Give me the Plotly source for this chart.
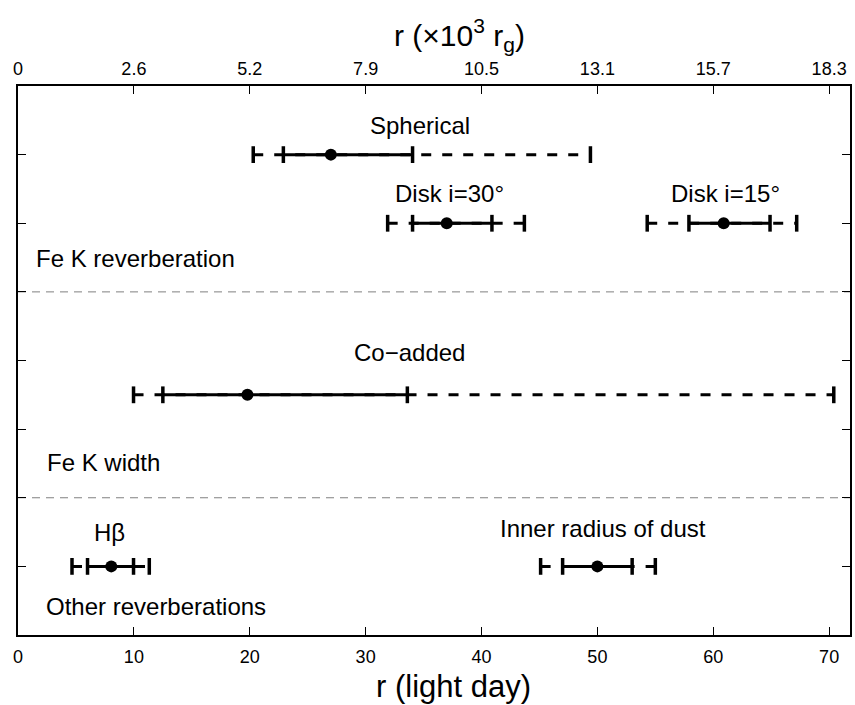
import plotly.graph_objects as go

# ---------------- data (light days) ----------------
labels   = ["Spherical", "Disk i=30°", "Disk i=15°", "Co−added", "Hβ", "Inner radius of dust"]
rows     = [7, 6, 6, 3.5, 1, 1]
r_best   = [27.0, 37.0, 60.9, 19.8, 8.05, 50.0]
r_in_lo  = [22.9, 34.05, 57.9, 12.5, 6.0, 47.0]
r_in_hi  = [34.05, 40.9, 64.9, 33.6, 9.97, 53.0]
r_out_lo = [20.3, 31.9, 54.3, 9.97, 4.66, 45.1]
r_out_hi = [49.4, 43.7, 67.2, 70.4, 11.33, 55.0]

group_labels = ["Fe K reverberation", "Fe K width", "Other reverberations"]
separators = [5, 2]

bottom_ticks = [0, 10, 20, 30, 40, 50, 60, 70]
top_ticktext = ["0", "2.6", "5.2", "7.9", "10.5", "13.1", "15.7", "18.3"]

# ---------------- layout helpers ----------------
FONT = "Arial, Liberation Sans, Helvetica, sans-serif"
label_pos = [(34.7, 7.43), (37.25, 6.44), (61.05, 6.44), (33.8, 4.11), (7.9, 1.50), (50.5, 1.55)]
group_pos = [(1.35, 5.49), (2.29, 2.52), (2.21, 0.41)]

fig = go.Figure()

for i in range(len(labels)):
    y = rows[i]
    # dashed outer range
    fig.add_trace(go.Scatter(x=[r_out_lo[i], r_out_hi[i]], y=[y, y], mode="lines",
                             line=dict(color="black", width=3, dash="10px,11px"),
                             hoverinfo="skip", showlegend=False))
    # solid inner range
    fig.add_trace(go.Scatter(x=[r_in_lo[i], r_in_hi[i]], y=[y, y], mode="lines",
                             line=dict(color="black", width=3),
                             hoverinfo="skip", showlegend=False))
    # caps
    fig.add_trace(go.Scatter(x=[r_out_lo[i], r_in_lo[i], r_in_hi[i], r_out_hi[i]], y=[y] * 4,
                             mode="markers",
                             marker=dict(symbol="line-ns", size=12, color="black",
                                         line=dict(color="black", width=3.5)),
                             hoverinfo="skip", showlegend=False))
    # best value
    fig.add_trace(go.Scatter(x=[r_best[i]], y=[y], mode="markers",
                             marker=dict(symbol="circle", size=12, color="black"),
                             name=labels[i], showlegend=False))

# invisible trace to activate the top axis
fig.add_trace(go.Scatter(x=[0], y=[0], xaxis="x2", mode="markers",
                         marker=dict(opacity=0), hoverinfo="skip", showlegend=False))

shapes = []
for s in separators:
    shapes.append(dict(type="line", xref="paper", x0=0, x1=1, yref="y", y0=s, y1=s,
                       line=dict(color="#808080", width=1, dash="8px,6px"), layer="below"))

annotations = []
for (x, y), t in zip(label_pos, labels):
    annotations.append(dict(x=x, y=y, xref="x", yref="y", text=t, showarrow=False,
                            xanchor="center", yanchor="middle",
                            font=dict(size=24, color="black", family=FONT)))
for (x, y), t in zip(group_pos, group_labels):
    annotations.append(dict(x=x, y=y, xref="x", yref="y", text=t, showarrow=False,
                            xanchor="left", yanchor="middle",
                            font=dict(size=24, color="black", family=FONT)))
annotations.append(dict(x=0.524, y=-0.094, xref="paper", yref="paper", text="r (light day)",
                        showarrow=False, xanchor="center", yanchor="middle",
                        font=dict(size=31, color="black", family=FONT)))
annotations.append(dict(x=0.531, y=1.093, xref="paper", yref="paper",
                        text="r (×10<sup>3</sup> r<sub>g</sub>)",
                        showarrow=False, xanchor="center", yanchor="middle",
                        font=dict(size=30, color="black", family=FONT)))

xr = [0, 71.8]
fig.update_layout(
    width=855, height=705,
    margin=dict(l=18, r=5, t=86, b=70, autoexpand=False),
    plot_bgcolor="white", paper_bgcolor="white",
    font=dict(family=FONT, color="black"),
    xaxis=dict(range=xr, tickvals=bottom_ticks, ticks="inside", ticklen=8, tickwidth=1,
               tickcolor="black", showline=True, linecolor="black", linewidth=2,
               mirror=True, showgrid=False, zeroline=False, automargin=False,
               tickfont=dict(size=18, color="black", family=FONT), ticklabelstandoff=4),
    xaxis2=dict(range=xr, overlaying="x", side="top", tickvals=bottom_ticks,
                ticktext=top_ticktext, ticks="inside", ticklen=8, tickwidth=1,
                tickcolor="black", showline=True, linecolor="black", linewidth=2,
                showgrid=False, zeroline=False, automargin=False,
                tickfont=dict(size=18, color="black", family=FONT), ticklabelstandoff=2),
    yaxis=dict(range=[0, 8], tickvals=[1, 2, 3, 4, 5, 6, 7], showticklabels=False,
               ticks="inside", ticklen=8, tickwidth=1, tickcolor="black",
               showline=True, linecolor="black", linewidth=2, mirror="ticks",
               showgrid=False, zeroline=False, automargin=False),
    shapes=shapes,
    annotations=annotations,
)

fig.write_html("out.html", config={"displayModeBar": False},
               post_script="document.body.style.margin='0';document.body.style.overflow='hidden';")
